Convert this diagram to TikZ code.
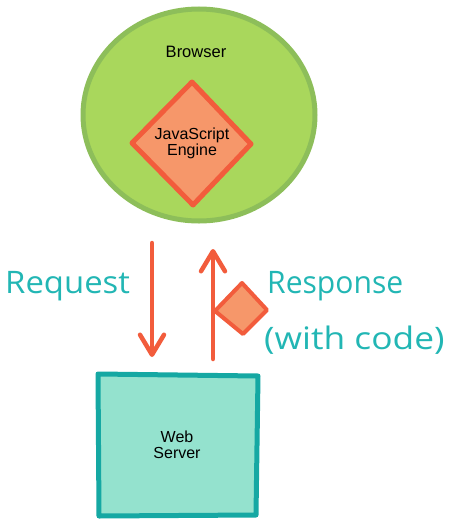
\documentclass[tikz,border=0pt]{standalone}
\usepackage{fontspec}
\setmainfont{Liberation Sans}
\newfontfamily\handfont{Open Sans}
\usetikzlibrary{arrows.meta}
\definecolor{bgreen}{HTML}{A9D75C}
\definecolor{bgreenline}{HTML}{8DBE5A}
\definecolor{jsfill}{HTML}{F6976A}
\definecolor{jsline}{HTML}{F25C3C}
\definecolor{wsfill}{HTML}{94E2CE}
\definecolor{wsline}{HTML}{15A8A3}
\definecolor{hand}{HTML}{22B6B4}
\tikzset{
  lbl/.style={font=\fontsize{16}{18}\selectfont, align=center, text=black},
  handlbl/.style={font=\handfont\fontsize{31}{34}\selectfont, text=hand, inner sep=0pt},
  arr/.style={draw=jsline, line width=4.5pt, line cap=round, -{Straight Barb[length=20pt,width=24pt,line width=4.5pt, round]}},
}
\begin{document}
\begin{tikzpicture}[x=1pt,y=-1pt]
\useasboundingbox (0,0) rectangle (452,522);
% browser
\draw[draw=bgreenline, fill=bgreen, line width=5pt] (199,115) ellipse [x radius=116, y radius=106];
\node[lbl, font=\fontsize{16.5}{18}\selectfont] (browser) at (196,52) {Browser};
\draw[draw=jsline, fill=jsfill, line width=5pt, line join=round] (192,82) -- (251,144) -- (193,205) -- (132,143) -- cycle;
\node[lbl] (js) at (192,143) {JavaScript\\[-2pt]Engine};
% web server
\draw[draw=wsline, fill=wsfill, line width=5pt, line join=round] (98,374) -- (258,376) -- (256,515) -- (99,516) -- cycle;
\node[lbl] (ws) at (177,445) {Web\\[-2pt]Server};
% arrows
\coordinate (rqA) at (152,243);
\coordinate (rqB) at (152,357);
\coordinate (rsA) at (213,359);
\coordinate (rsB) at (213,249);
\draw[arr] (rqA) -- (rqB);
\draw[arr] (rsA) -- (rsB);
\draw[draw=jsline, fill=jsfill, line width=4pt, line join=round] (242,283) -- (267,310) -- (243,334) -- (215,311) -- cycle;
% labels
\node[handlbl, anchor=west, xscale=1.06] (req) at (5,286) {Request};
\node[handlbl, anchor=west, xscale=0.97] (resp) at (267,286) {Response};
\node[handlbl, anchor=west, xscale=1.14] (code) at (264,340) {(with code)};
\end{tikzpicture}
\end{document}
